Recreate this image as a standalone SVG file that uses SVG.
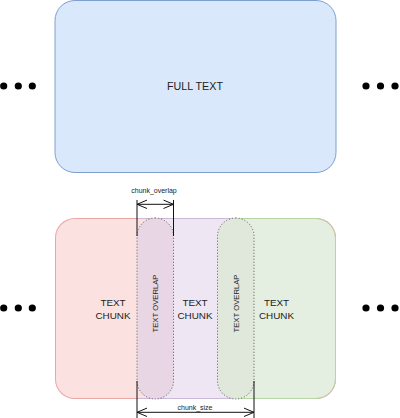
<svg xmlns="http://www.w3.org/2000/svg" width="400" height="418" viewBox="0 0 400 418">
<style>
  .lbl{font-family:"Liberation Sans",Arial,sans-serif;fill:#222;text-anchor:middle}
  .big{font-size:10.7px}
  .chunk{font-size:9.9px}
  .ov{font-size:7.7px}
  .dim{font-size:7px}
  .dot{fill:#000}
  .pill{stroke:#555;stroke-width:1;stroke-dasharray:1 2}
  .dl{stroke:#111;stroke-width:1;fill:none}
</style>
<defs>
  <clipPath id="band"><rect x="55" y="218" width="281" height="181" rx="20" ry="20"/></clipPath>
  <marker id="ah" viewBox="-12 -6 13 12" markerWidth="13" markerHeight="12" refX="0" refY="0" orient="auto-start-reverse" markerUnits="userSpaceOnUse">
    <path d="M-10,-4.2 L0,0 L-10,4.2" fill="none" stroke="#111" stroke-width="1"/>
  </marker>
</defs>

<g id="full-text">
  <rect x="55" y="0.5" width="281" height="172" rx="20" ry="20" fill="#dae8fc" stroke="#7f9fcf" stroke-width="1"/>
  <text class="lbl big" x="195" y="90">FULL TEXT</text>
</g>

<g id="dots-top-left"><circle class="dot" cx="3.7" cy="86" r="3.6"/><circle class="dot" cx="18.3" cy="86" r="3.6"/><circle class="dot" cx="32.3" cy="86" r="3.6"/></g>
<g id="dots-top-right"><circle class="dot" cx="366" cy="86" r="3.6"/><circle class="dot" cx="380.5" cy="86" r="3.6"/><circle class="dot" cx="395" cy="86" r="3.6"/></g>
<g id="dots-bottom-left"><circle class="dot" cx="3.7" cy="308" r="3.6"/><circle class="dot" cx="18.3" cy="308" r="3.6"/><circle class="dot" cx="32.3" cy="308" r="3.6"/></g>
<g id="dots-bottom-right"><circle class="dot" cx="366" cy="308" r="3.6"/><circle class="dot" cx="380.5" cy="308" r="3.6"/><circle class="dot" cx="395" cy="308" r="3.6"/></g>

<g id="chunks" clip-path="url(#band)">
  <rect x="50" y="210" width="105" height="200" fill="#fbe2e1"/>
  <rect x="155" y="210" width="80" height="200" fill="#eee6f3"/>
  <rect x="235" y="210" width="110" height="200" fill="#e5efe1"/>
  <rect x="55" y="218" width="281" height="181" rx="20" ry="20" fill="none" stroke="#eaa8a5" stroke-width="2"/>
</g>
<g id="band-borders" fill="none" stroke-width="1">
  <path d="M137,218.5 L235,218.5 M137,398.5 L235,398.5" stroke="#c9b8d6"/>
  <path d="M235,218.5 L316,218.5 A19.5,19.5 0 0 1 335.5,238 L335.5,379 A19.5,19.5 0 0 1 316,398.5 L235,398.5" stroke="#b6d5a5"/>
</g>

<g id="chunk-1"><text class="lbl chunk" x="113" y="306">TEXT</text><text class="lbl chunk" x="113" y="318.5">CHUNK</text></g>
<g id="chunk-2"><text class="lbl chunk" x="195" y="306">TEXT</text><text class="lbl chunk" x="195" y="318.5">CHUNK</text></g>
<g id="chunk-3"><text class="lbl chunk" x="276.5" y="306">TEXT</text><text class="lbl chunk" x="276.5" y="318.5">CHUNK</text></g>

<g id="overlap-1">
  <rect class="pill" x="137" y="218" width="36.5" height="181" rx="18.25" ry="18.25" fill="#e9d6e4"/>
  <text class="lbl ov" transform="translate(157.5,303.5) rotate(-90)">TEXT OVERLAP</text>
</g>
<g id="overlap-2">
  <rect class="pill" x="217.5" y="218" width="36.5" height="181" rx="18.25" ry="18.25" fill="#dfe8da"/>
  <text class="lbl ov" transform="translate(238.6,303.5) rotate(-90)">TEXT OVERLAP</text>
</g>

<g id="connectors">
  <path class="dl" d="M137,200 L137,236 M173.5,200 L173.5,236"/>
  <path class="dl" d="M137,204.3 L173.5,204.3" marker-start="url(#ah)" marker-end="url(#ah)"/>
  <path class="dl" d="M137,381 L137,418 M254,381 L254,418"/>
  <path class="dl" d="M137,412.3 L254,412.3" marker-start="url(#ah)" marker-end="url(#ah)"/>
  <text class="lbl dim" x="154" y="192.5">chunk_overlap</text>
  <text class="lbl dim" x="195" y="409.5">chunk_size</text>
</g>
</svg>
